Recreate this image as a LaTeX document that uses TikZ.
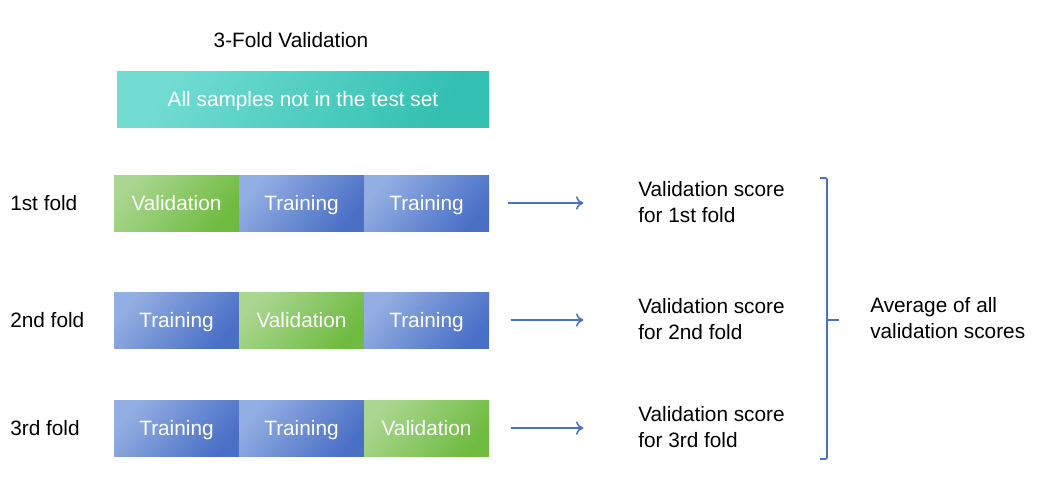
\documentclass[tikz,border=0pt]{standalone}
\usepackage{fontspec}
\setmainfont{Liberation Sans}
\usetikzlibrary{arrows.meta}
\definecolor{trainlight}{HTML}{93AEE2}
\definecolor{traindark}{HTML}{4A70C6}
\definecolor{validlight}{HTML}{A9D690}
\definecolor{validdark}{HTML}{6FBB40}
\definecolor{alllight}{HTML}{72DCD2}
\definecolor{alldark}{HTML}{33C0B1}
\definecolor{lineblue}{HTML}{4A72C4}
\begin{document}
\begin{tikzpicture}[x=0.75pt, y=-0.75pt, font=\fontsize{15.6}{19}\selectfont,
	cell/.style={minimum width=93.75pt, minimum height=42pt, inner sep=0pt, text=white, text height=12.2pt, text depth=1.2pt},
	train/.style={cell, top color=trainlight, bottom color=traindark, shading angle=50},
	valid/.style={cell, top color=validlight, bottom color=validdark, shading angle=50},
	score/.style={anchor=west, align=left, inner sep=0pt},
	fold/.style={anchor=west, inner sep=0pt},
	link/.style={draw=lineblue, line width=1.2pt, -{To[length=5.5pt, width=10pt]}, shorten <=14pt, shorten >=41pt}]
		\useasboundingbox (0, 0) rectangle (1055, 487);

		\node (title) at (291, 40) {3-Fold Validation};
		\node[cell, minimum width=279pt, top color=alllight, bottom color=alldark, shading angle=60] (all) at (303, 99) {All samples not in the test set};

		\node[fold] (f1) at (10, 203) {1st fold};
		\node[valid] (c11) at (176.5, 203) {Validation};
		\node[train] (c12) at (301.5, 203) {Training};
		\node[train] (c13) at (426.5, 203) {Training};

		\node[fold] (f2) at (10, 320) {2nd fold};
		\node[train] (c21) at (176.5, 320) {Training};
		\node[valid] (c22) at (301.5, 320) {Validation};
		\node[train] (c23) at (426.5, 320) {Training};

		\node[fold] (f3) at (10, 428) {3rd fold};
		\node[train] (c31) at (176.5, 428) {Training};
		\node[train] (c32) at (301.5, 428) {Training};
		\node[valid] (c33) at (426.5, 428) {Validation};

		\node[score] (s1) at (638, 202) {Validation score\\for 1st fold};
		\node[score] (s2) at (638, 319) {Validation score\\for 2nd fold};
		\node[score] (s3) at (638, 427) {Validation score\\for 3rd fold};

		\node[score] (avg) at (870, 318) {Average of all\\validation scores};

		\path (c13.east) edge[link] (c13.east -| s1.west);
		\path (c23.east) edge[link, shorten <=16pt] (c23.east -| s2.west);
		\path (c33.east) edge[link, shorten <=16pt] (c33.east -| s3.west);

		% brace
		\draw[lineblue, line width=1.2pt, rounded corners=1pt] (820, 178) -- (827, 178) -- (827, 459) -- (820, 459);
		\draw[lineblue, line width=1.2pt] (827, 320) -- (839, 320);
	\end{tikzpicture}
\end{document}
